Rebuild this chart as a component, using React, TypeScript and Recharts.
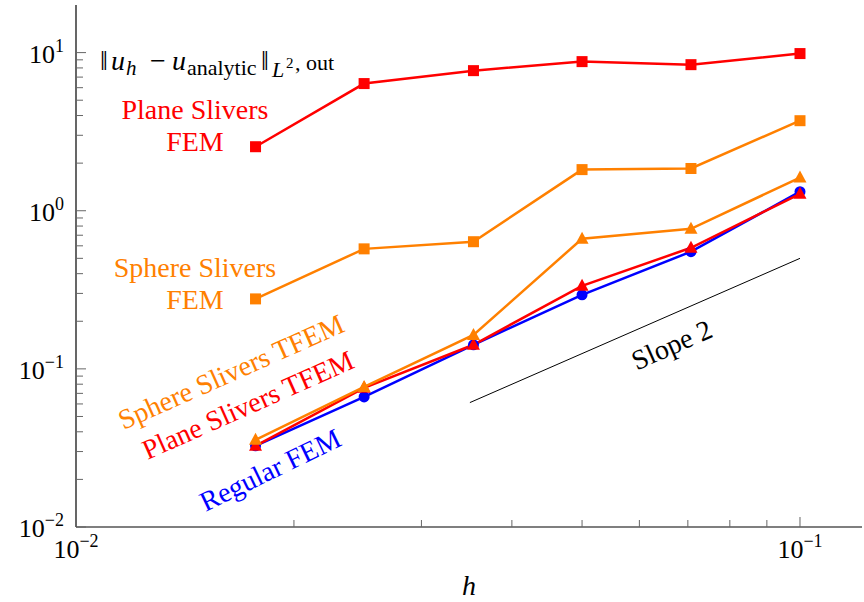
import { LineChart, Line, XAxis, YAxis, ReferenceDot } from 'recharts';

// mesh size h and L2 error per method
const hValues = [0.0177, 0.025, 0.0354, 0.05, 0.0707, 0.1];
const planeFem = [2.54, 6.37, 7.69, 8.77, 8.39, 9.86];
const sphereFem = [0.277, 0.574, 0.637, 1.82, 1.85, 3.71];
const sphereTfem = [0.0356, 0.0769, 0.164, 0.665, 0.769, 1.62];
const planeTfem = [0.0326, 0.0759, 0.142, 0.335, 0.583, 1.28];
const regularFem = [0.0326, 0.0665, 0.142, 0.294, 0.551, 1.32];

// reference slope-2 triangle edge
const slopeH = [0.035, 0.1];
const slopeErr = [0.0612, 0.5];

const xTicks = [0.01, 0.02, 0.03, 0.04, 0.05, 0.06, 0.07, 0.08, 0.09, 0.1];
const yTicks = [
  0.01, 0.02, 0.03, 0.04, 0.05, 0.06, 0.07, 0.08, 0.09,
  0.1, 0.2, 0.3, 0.4, 0.5, 0.6, 0.7, 0.8, 0.9,
  1, 2, 3, 4, 5, 6, 7, 8, 9, 10,
];

const RED = '#ff0000';
const ORANGE = '#ff8000';
const BLUE = '#0000ff';
const FONT = '"Liberation Serif", "Times New Roman", serif';

const data = hValues.map((h, i) => ({
  h,
  planeFem: planeFem[i],
  sphereFem: sphereFem[i],
  sphereTfem: sphereTfem[i],
  planeTfem: planeTfem[i],
  regularFem: regularFem[i],
}));
const slopeData = slopeH.map((h, i) => ({ h, slope: slopeErr[i] }));

const isMajor = (v: number) => Math.abs(Math.log10(v) - Math.round(Math.log10(v))) < 1e-6;
const expText = (v: number) => {
  const e = Math.round(Math.log10(v));
  return e < 0 ? '\u2212' + Math.abs(e) : String(e);
};

const Pow = ({ x, y, v, anchor }: any) => (
  <text x={x} y={y} textAnchor={anchor} fontSize={26} fontFamily={FONT} fill="#000">
    10<tspan dy={-11} fontSize={18}>{expText(v)}</tspan>
  </text>
);

const BottomTick = ({ x, y, payload }: any) => {
  const major = isMajor(payload.value);
  return (
    <g>
      <line x1={x} x2={x} y1={y} y2={y - (major ? 10 : 7)} stroke="#666" />
      {major && <Pow x={x} y={y + 31} v={payload.value} anchor="middle" />}
    </g>
  );
};
const TopTick = ({ x, y, payload }: any) => {
  const major = isMajor(payload.value);
  return <line x1={x} x2={x} y1={y} y2={y + (major ? 10 : 7)} stroke="#666" />;
};
const LeftTick = ({ x, y, payload }: any) => {
  const major = isMajor(payload.value);
  return (
    <g>
      <line x1={x} x2={x + (major ? 10 : 7)} y1={y} y2={y} stroke="#666" />
      {major && <Pow x={x - 12} y={y + 10} v={payload.value} anchor="end" />}
    </g>
  );
};
const RightTick = ({ x, y, payload }: any) => {
  const major = isMajor(payload.value);
  return <line x1={x} x2={x - (major ? 10 : 7)} y1={y} y2={y} stroke="#666" />;
};

const Square = ({ cx, cy, color }: any) =>
  cx == null ? null : <rect x={cx - 5.5} y={cy - 5.5} width={11} height={11} fill={color} />;
const Triangle = ({ cx, cy, color }: any) =>
  cx == null ? null : (
    <polygon points={`${cx},${cy - 7} ${cx - 6.5},${cy + 5} ${cx + 6.5},${cy + 5}`} fill={color} />
  );
const Circle = ({ cx, cy, color }: any) =>
  cx == null ? null : <circle cx={cx} cy={cy} r={5.5} fill={color} />;

const rotated = (label: string, color: string, angle: number) => ({ cx, cy }: any) => (
  <text
    x={cx}
    y={cy}
    textAnchor="middle"
    dominantBaseline="central"
    transform={`rotate(${angle} ${cx} ${cy})`}
    fontSize={28}
    fontFamily={FONT}
    fill={color}
  >
    {label}
  </text>
);

const twoLine = (first: string, second: string, color: string) => ({ cx, cy }: any) => (
  <text x={cx} y={cy} textAnchor="middle" fontSize={28} fontFamily={FONT} fill={color}>
    <tspan x={cx}>{first}</tspan>
    <tspan x={cx} dy={32}>{second}</tspan>
  </text>
);

// ||u_h - u_analytic||_{L^2, out}
const TitleLabel = ({ cx, cy }: any) => (
  <text y={cy} fontSize={28} fontFamily={FONT} fill="#000">
    <tspan x={cx}>{'\u2016'}</tspan>
    <tspan x={cx + 11} fontStyle="italic">u</tspan>
    <tspan x={cx + 26} fontSize={21} dy={5} fontStyle="italic">h</tspan>
    <tspan x={cx + 50} dy={-5}>{'\u2212'}</tspan>
    <tspan x={cx + 72} fontStyle="italic">u</tspan>
    <tspan x={cx + 87} fontSize={22} dy={5}>analytic</tspan>
    <tspan x={cx + 161} dy={-5}>{'\u2016'}</tspan>
    <tspan x={cx + 172} fontSize={22} dy={7} fontStyle="italic">L</tspan>
    <tspan x={cx + 186} fontSize={15} dy={-9}>2</tspan>
    <tspan x={cx + 195} fontSize={22} dy={2}>{', out'}</tspan>
  </text>
);

export default function App() {
  return (
    <div style={{ position: 'absolute', left: 0, top: 0, width: 864, height: 602, background: '#fff' }}>
      <LineChart width={864} height={602} data={data} margin={{ top: 5, right: 2, bottom: 0, left: 0 }}>
        <XAxis
          dataKey="h"
          type="number"
          scale="log"
          domain={[0.01, 0.1218]}
          ticks={xTicks}
          interval={0}
          height={75}
          tickSize={0}
          tickMargin={0}
          tick={<BottomTick />}
          axisLine={{ stroke: '#000', strokeWidth: 1.2 }}
          allowDataOverflow
          label={{ value: 'h', position: 'insideBottom', offset: 7, style: { fontStyle: 'italic', fontSize: 28, fill: '#000', fontFamily: FONT } }}
        />
        <XAxis
          xAxisId="top"
          orientation="top"
          dataKey="h"
          type="number"
          scale="log"
          domain={[0.01, 0.1218]}
          ticks={xTicks}
          interval={0}
          height={0}
          tickSize={0}
          tickMargin={0}
          tick={<TopTick />}
          axisLine={{ stroke: '#000', strokeWidth: 1.2 }}
          allowDataOverflow
        />
        <YAxis
          type="number"
          scale="log"
          domain={[0.01, 20]}
          ticks={yTicks}
          interval={0}
          width={76}
          tickSize={0}
          tickMargin={0}
          tick={<LeftTick />}
          axisLine={{ stroke: '#000', strokeWidth: 1.2 }}
          allowDataOverflow
        />
        <YAxis
          yAxisId="right"
          orientation="right"
          type="number"
          scale="log"
          domain={[0.01, 20]}
          ticks={yTicks}
          interval={0}
          width={0}
          tickSize={0}
          tickMargin={0}
          tick={<RightTick />}
          axisLine={{ stroke: '#000', strokeWidth: 1.2 }}
          allowDataOverflow
        />

        <Line data={slopeData} dataKey="slope" stroke="#000" strokeWidth={1} dot={false} isAnimationActive={false} />
        <Line dataKey="regularFem" stroke={BLUE} strokeWidth={2.5} dot={<Circle color={BLUE} />} isAnimationActive={false} />
        <Line dataKey="planeTfem" stroke={RED} strokeWidth={2.5} dot={<Triangle color={RED} />} isAnimationActive={false} />
        <Line dataKey="sphereTfem" stroke={ORANGE} strokeWidth={2.5} dot={<Triangle color={ORANGE} />} isAnimationActive={false} />
        <Line dataKey="sphereFem" stroke={ORANGE} strokeWidth={2.5} dot={<Square color={ORANGE} />} isAnimationActive={false} />
        <Line dataKey="planeFem" stroke={RED} strokeWidth={2.5} dot={<Square color={RED} />} isAnimationActive={false} />

        <ReferenceDot x={0.01079} y={7.8} r={0} shape={<TitleLabel />} />
        <ReferenceDot x={0.0146} y={3.82} r={0} shape={twoLine('Plane Slivers', 'FEM', RED)} />
        <ReferenceDot x={0.0146} y={0.382} r={0} shape={twoLine('Sphere Slivers', 'FEM', ORANGE)} />
        <ReferenceDot x={0.01637} y={0.0957} r={0} shape={rotated('Sphere Slivers TFEM', ORANGE, -24)} />
        <ReferenceDot x={0.01728} y={0.0592} r={0} shape={rotated('Plane Slivers TFEM', RED, -24)} />
        <ReferenceDot x={0.01854} y={0.023} r={0} shape={rotated('Regular FEM', BLUE, -26)} />
        <ReferenceDot x={0.0665} y={0.142} r={0} shape={rotated('Slope 2', '#000', -24)} />
      </LineChart>
    </div>
  );
}
